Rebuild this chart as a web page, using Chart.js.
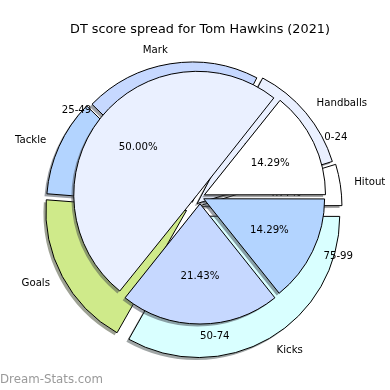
<!DOCTYPE html>
<html>
<head>
<meta charset="utf-8">
<script src="https://cdn.jsdelivr.net/npm/chart.js@4.4.0/dist/chart.umd.min.js"></script>
<style>
  body { margin: 0; background: #fff; }
  #wrap { position: relative; width: 390px; height: 390px; }
  #wrap canvas { position: absolute; left: 0; top: 0; }
</style>
</head>
<body>
<div id="wrap">
  <canvas id="outer-chart" width="390" height="390"></canvas>
  <canvas id="inner-chart" width="390" height="390"></canvas>
</div>
<script>
const titulo = "DT score spread for Tom Hawkins (2021)";
const marca = "Dream-Stats.com";

// outer pie: share of DT score per stat (counter-clockwise from 3 o'clock)
const statLabels = ["Hitout", "Handballs", "Mark", "Tackle", "Goals", "Kicks"];
const statValues = [4.77, 12.6, 20.3, 11.1, 18.0, 33.2];
const statColors = ["#ffffff", "#eaf0ff", "#c6d8ff", "#b3d4ff", "#cfea8a", "#d9ffff"];

// inner pie: games per DT score range
const rangeLabels = ["0-24", "25-49", "50-74", "75-99"];
const rangeValues = [2, 7, 3, 2];
const rangeColors = ["#ffffff", "#eaf0ff", "#c6d8ff", "#b3d4ff"];

// explode distance in px for each slice
const statExplode = [9, 7, 5, 7, 8, 12];
const rangeExplode = [6, 7, 7, 5];

const fonte = "'DejaVu Sans', sans-serif";

// chart.js goes clockwise, so flip the order
function cw(arr) {
  return arr.slice().reverse();
}

// arc offset that gives the wanted shift (chart.js scales it by the arc size)
function offsetFor(explode) {
  return function (ctx) {
    const data = ctx.dataset.data;
    const total = data.reduce((a, b) => a + b, 0);
    const circ = data[ctx.dataIndex] / total * 2 * Math.PI;
    return explode[ctx.dataIndex] * 4 / (2 - Math.sin(Math.min(Math.PI, circ)));
  };
}

function shift(arc) {
  const off = arc.options.offset || 0;
  return off / 4 * (2 - Math.sin(Math.min(Math.PI, arc.circumference)));
}

function darken(hex) {
  const n = parseInt(hex.slice(1), 16);
  const r = Math.round(((n >> 16) & 255) * 0.3);
  const g = Math.round(((n >> 8) & 255) * 0.3);
  const b = Math.round((n & 255) * 0.3);
  return "rgba(" + r + "," + g + "," + b + ",0.5)";
}

const shadowPlugin = {
  id: "sombra",
  beforeDatasetsDraw(chart) {
    const ctx = chart.ctx;
    chart.getDatasetMeta(0).data.forEach(arc => {
      const opts = arc.options;
      arc.options = Object.assign({}, opts, { backgroundColor: darken(opts.backgroundColor), borderWidth: 0 });
      ctx.save();
      ctx.translate(-2.4, 2.4);
      arc.draw(ctx);
      ctx.restore();
      arc.options = opts;
    });
  }
};

const labelPlugin = {
  id: "rotulos",
  afterDatasetsDraw(chart) {
    const ctx = chart.ctx;
    const data = chart.data.datasets[0].data;
    const total = data.reduce((a, b) => a + b, 0);
    ctx.save();
    ctx.font = "10.2px " + fonte;
    ctx.fillStyle = "#000";
    ctx.textBaseline = "middle";
    chart.getDatasetMeta(0).data.forEach((arc, i) => {
      const mid = (arc.startAngle + arc.endAngle) / 2;
      const d = shift(arc);
      const cx = arc.x + Math.cos(mid) * d;
      const cy = arc.y + Math.sin(mid) * d;
      const R = arc.outerRadius;

      ctx.textAlign = Math.cos(mid) > 0 ? "left" : "right";
      ctx.fillText(chart.data.labels[i], cx + Math.cos(mid) * R * 1.1, cy + Math.sin(mid) * R * 1.1);

      ctx.textAlign = "center";
      const pct = (data[i] / total * 100).toFixed(2) + "%";
      ctx.fillText(pct, cx + Math.cos(mid) * R * 0.6, cy + Math.sin(mid) * R * 0.6);
    });
    ctx.restore();
  }
};

const textPlugin = {
  id: "textos",
  afterDraw(chart) {
    const ctx = chart.ctx;
    ctx.save();
    ctx.textBaseline = "middle";
    ctx.textAlign = "center";
    ctx.fillStyle = "#000";
    ctx.font = "12.8px " + fonte;
    ctx.fillText(titulo, 200, 30);
    ctx.textAlign = "left";
    ctx.fillStyle = "#9a9a9a";
    ctx.font = "11.8px " + fonte;
    ctx.fillText(marca, 0, 380);
    ctx.restore();
  }
};

function pieConfig(labels, values, colors, explode, radius, padding, plugins) {
  return {
    type: "pie",
    data: {
      labels: cw(labels),
      datasets: [{
        data: cw(values),
        backgroundColor: cw(colors),
        borderColor: "#000",
        borderWidth: 1,
        offset: offsetFor(cw(explode)),
      }],
    },
    options: {
      responsive: false,
      animation: false,
      events: [],
      rotation: 90,
      radius: radius,
      layout: { padding: padding },
      plugins: {
        legend: { display: false },
        tooltip: { enabled: false },
        title: { display: false },
      },
    },
    plugins: plugins,
  };
}

const outerChart = new Chart(
  document.getElementById("outer-chart").getContext("2d"),
  pieConfig(statLabels, statValues, statColors, statExplode, 140,
    { left: 0, right: 4, top: 24, bottom: 0 }, [shadowPlugin, labelPlugin])
);

const innerChart = new Chart(
  document.getElementById("inner-chart").getContext("2d"),
  pieConfig(rangeLabels, rangeValues, rangeColors, rangeExplode, 120,
    { left: 10, right: 0, top: 4, bottom: 0 }, [shadowPlugin, labelPlugin, textPlugin])
);
</script>
</body>
</html>
